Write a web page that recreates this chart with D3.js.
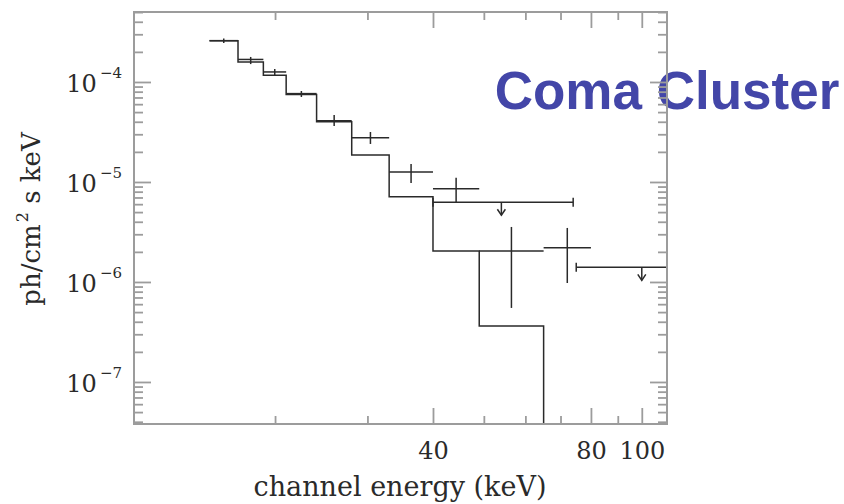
<!DOCTYPE html>
<html>
<head>
<meta charset="utf-8">
<script src="https://cdn.jsdelivr.net/npm/d3@7"></script>
<style>
  body { margin: 0; background: #fff; }
  svg { display: block; }
</style>
</head>
<body>
<svg id="chart" width="844" height="504"></svg>
<script>
// Model spectrum: histogram bin edges (keV) and model flux in each bin
const modelEdges = [15, 17, 19, 21, 24, 28, 33, 40, 49, 65];
const modelFlux  = [2.59e-4, 1.58e-4, 1.17e-4, 7.5e-5, 4.0e-5, 1.86e-5, 7.1e-6, 2.04e-6, 3.63e-7];

// Measured channels: energy bin bounds, flux and 1-sigma flux range
const dataLo     = [15, 17, 19, 21, 24, 28, 33, 40, 49, 65];
const dataHi     = [17, 19, 21, 24, 28, 33, 40, 49, 65, 80];
const dataFlux   = [2.59e-4, 1.68e-4, 1.26e-4, 7.65e-5, 4.1e-5, 2.77e-5, 1.26e-5, 8.57e-6, 2.04e-6, 2.2e-6];
const dataErrLo  = [2.45e-4, 1.51e-4, 1.16e-4, 7.08e-5, 3.63e-5, 2.40e-5, 9.77e-6, 6.31e-6, 5.5e-7, 9.77e-7];
const dataErrHi  = [2.72e-4, 1.78e-4, 1.35e-4, 8.13e-5, 4.68e-5, 3.16e-5, 1.51e-5, 1.10e-5, 3.55e-6, 3.47e-6];

// Upper limits: energy bin bounds, arrow energy and limiting flux
const limLo   = [40, 75];
const limHi   = [74, 133];
const limE    = [54, 100];
const limFlux = [6.27e-6, 1.40e-6];

// Axis ticks
const xMajorTicks = [40, 80, 100];
const xMinorTicks = [20, 30, 50, 60, 70, 90];
const yMajorTicks = [1e-7, 1e-6, 1e-5, 1e-4];

const plot = { left: 134, right: 667, top: 12, bottom: 424 };
const frameColor = "#9c9c9c";
const ink = "#2a2a2a";
const serif = "'DejaVu Serif', serif";

const x = d3.scaleLog().domain([10.77, 111.7]).range([plot.left, plot.right]);
const y = d3.scaleLog().domain([3.8e-8, 5.01e-4]).range([plot.bottom, plot.top]);

const svg = d3.select("#chart");

svg.append("defs").append("clipPath").attr("id", "plotArea")
  .append("rect")
  .attr("x", plot.left).attr("y", plot.top)
  .attr("width", plot.right - plot.left).attr("height", plot.bottom - plot.top);

// Title sits underneath the frame
svg.append("text")
  .attr("x", 667).attr("y", 109)
  .attr("text-anchor", "middle")
  .attr("font-family", "'Liberation Sans', Arial, sans-serif")
  .attr("font-weight", "bold")
  .attr("font-size", 53)
  .attr("fill", "#4346a8")
  .text("Coma Cluster");

const gPlot = svg.append("g").attr("clip-path", "url(#plotArea)");

// Model histogram, falling to the floor after the last bin
const modelPts = modelFlux.map((f, i) => [modelEdges[i], f]);
modelPts.push([modelEdges[modelEdges.length - 1], modelFlux[modelFlux.length - 1]]);
modelPts.push([modelEdges[modelEdges.length - 1], y.domain()[0]]);
gPlot.append("path")
  .attr("d", d3.line().x(d => x(d[0])).y(d => y(d[1])).curve(d3.curveStepAfter)(modelPts))
  .attr("fill", "none").attr("stroke", ink).attr("stroke-width", 1.5);

// Data crosses
const pts = dataFlux.map((f, i) => ({
  lo: dataLo[i], hi: dataHi[i], f, eLo: dataErrLo[i], eHi: dataErrHi[i],
  c: Math.sqrt(dataLo[i] * dataHi[i])
}));
const gData = gPlot.append("g").attr("stroke", ink).attr("stroke-width", 1.5);
gData.selectAll("line.h").data(pts).join("line").attr("class", "h")
  .attr("x1", d => x(d.lo)).attr("x2", d => x(d.hi))
  .attr("y1", d => y(d.f)).attr("y2", d => y(d.f));
gData.selectAll("line.v").data(pts).join("line").attr("class", "v")
  .attr("x1", d => x(d.c)).attr("x2", d => x(d.c))
  .attr("y1", d => y(d.eLo)).attr("y2", d => y(d.eHi));

// Upper limits with end caps and downward arrows
const lims = limFlux.map((f, i) => ({ lo: limLo[i], hi: limHi[i], e: limE[i], f }));
const gLim = gPlot.append("g").attr("stroke", ink).attr("stroke-width", 1.5).attr("fill", "none");
lims.forEach(d => {
  const yy = y(d.f);
  gLim.append("line").attr("x1", x(d.lo)).attr("x2", x(d.hi)).attr("y1", yy).attr("y2", yy);
  [d.lo, d.hi].forEach(e => {
    gLim.append("line").attr("x1", x(e)).attr("x2", x(e)).attr("y1", yy - 4.5).attr("y2", yy + 4.5);
  });
  const ax = x(d.e);
  gLim.append("line").attr("x1", ax).attr("x2", ax).attr("y1", yy).attr("y2", yy + 13);
  gLim.append("path").attr("d", `M${ax - 4},${yy + 7}L${ax},${yy + 13}L${ax + 4},${yy + 7}`);
});

// Axes: ticks point inward on all four sides
function tidy(g) {
  g.select(".domain").remove();
  g.selectAll(".tick line").attr("stroke", frameColor).attr("stroke-width", 1.8);
  g.attr("font-family", serif).attr("fill", ink);
}
const noLabel = () => "";
const yMinorTicks = y.ticks().filter(d => Math.abs(Math.log10(d) - Math.round(Math.log10(d))) > 1e-6);

// bottom
svg.append("g").attr("transform", `translate(0,${plot.bottom})`)
  .call(d3.axisBottom(x).tickValues(xMinorTicks).tickSize(-8).tickFormat(noLabel)).call(tidy);
const xAxis = svg.append("g").attr("transform", `translate(0,${plot.bottom})`)
  .call(d3.axisBottom(x).tickValues(xMajorTicks).tickSize(-16).tickPadding(18).tickFormat(d3.format("d")))
  .call(tidy);
xAxis.attr("font-size", 24);
xAxis.selectAll("text").attr("fill", ink);

// top
svg.append("g").attr("transform", `translate(0,${plot.top})`)
  .call(d3.axisTop(x).tickValues(xMinorTicks).tickSize(-8).tickFormat(noLabel)).call(tidy);
svg.append("g").attr("transform", `translate(0,${plot.top})`)
  .call(d3.axisTop(x).tickValues(xMajorTicks).tickSize(-16).tickFormat(noLabel)).call(tidy);

// left
svg.append("g").attr("transform", `translate(${plot.left},0)`)
  .call(d3.axisLeft(y).tickValues(yMinorTicks).tickSize(-9).tickFormat(noLabel)).call(tidy);
const yAxis = svg.append("g").attr("transform", `translate(${plot.left},0)`)
  .call(d3.axisLeft(y).tickValues(yMajorTicks).tickSize(-17).tickPadding(12).tickFormat(noLabel))
  .call(tidy);
yAxis.attr("font-size", 24);
yAxis.selectAll(".tick text").each(function (d) {
  const t = d3.select(this).attr("fill", ink).attr("dy", "0.4em");
  t.append("tspan").text("10");
  t.append("tspan").attr("dx", 3).attr("dy", -14).attr("font-size", 15)
    .text("\u2212" + Math.abs(Math.round(Math.log10(d))));
});

// right
svg.append("g").attr("transform", `translate(${plot.right},0)`)
  .call(d3.axisRight(y).tickValues(yMinorTicks).tickSize(-9).tickFormat(noLabel)).call(tidy);
svg.append("g").attr("transform", `translate(${plot.right},0)`)
  .call(d3.axisRight(y).tickValues(yMajorTicks).tickSize(-17).tickFormat(noLabel)).call(tidy);

// frame
svg.append("rect")
  .attr("x", plot.left).attr("y", plot.top)
  .attr("width", plot.right - plot.left).attr("height", plot.bottom - plot.top)
  .attr("fill", "none").attr("stroke", frameColor).attr("stroke-width", 2);

// axis titles
svg.append("text")
  .attr("x", 400).attr("y", 496)
  .attr("text-anchor", "middle")
  .attr("font-family", serif).attr("font-size", 27).attr("fill", ink)
  .text("channel energy (keV)");

const yTitle = svg.append("text")
  .attr("transform", "translate(40,219) rotate(-90)")
  .attr("text-anchor", "middle")
  .attr("font-family", serif).attr("font-size", 26).attr("fill", ink);
yTitle.append("tspan").text("ph/cm");
yTitle.append("tspan").attr("dx", 2).attr("dy", -12).attr("font-size", 16).text("2");
yTitle.append("tspan").attr("dy", 12).text("\u00a0s keV");
</script>
</body>
</html>
